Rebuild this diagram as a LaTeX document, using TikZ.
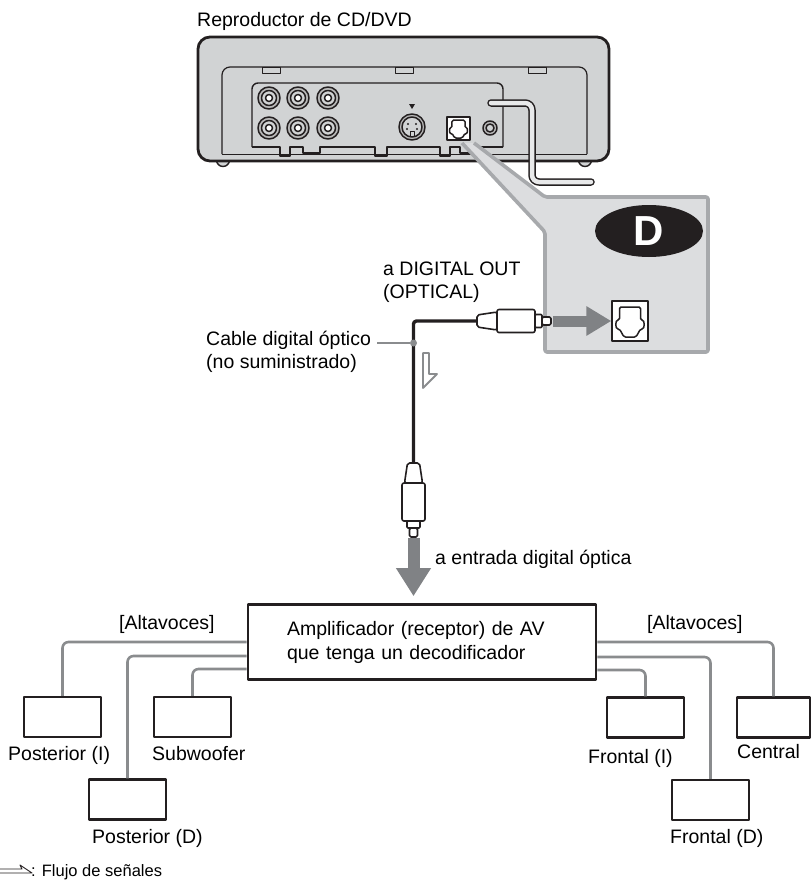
\documentclass[tikz,border=0pt]{standalone}
\usepackage{fontspec}
\setmainfont{Liberation Sans}
\usepackage{tikz}
\usetikzlibrary{arrows.meta, positioning, shapes.geometric}
\tikzset{>=stealth}
\definecolor{ink}{HTML}{231F20}
\definecolor{case}{HTML}{D1D3D4}
\definecolor{lens}{HTML}{DCDDDF}
\definecolor{lensedge}{HTML}{A7A9AC}
\definecolor{wiregray}{HTML}{8A8C8E}
\definecolor{flow}{HTML}{808285}

% optical socket outline, centred at #1
\newcommand{\optsocket}[3]{%
  \begin{scope}[shift={(#1)}, xscale=#2, yscale=#3]
    \draw[ink, line width=1.5, rounded corners=1.5] (-10.5,-14) -- (10.5,-14) -- (10.5,-1)
      .. controls (15,-1) and (15,8) .. (10.5,8) -- (6,16) -- (-6,16) -- (-10.5,8)
      .. controls (-15,8) and (-15,-1) .. (-10.5,-1) -- cycle;
  \end{scope}}
% optical plug, cable end at #1, pointing along #2 degrees
\newcommand{\optplug}[2]{%
  \begin{scope}[shift={(#1)}, rotate=#2]
    \draw[ink, line width=1.6, fill=white, rounded corners=2] (0,-6) -- (20,-9) -- (20,9) -- (0,6) -- cycle;
    \draw[ink, line width=1.6, fill=white, rounded corners=2] (20,-11.5) rectangle (58,11.5);
    \draw[ink, line width=1.6, fill=white, rounded corners=1] (58,-6.5) rectangle (65,6.5);
    \draw[ink, line width=1.6, fill=white, rounded corners=1.5] (65,-4) rectangle (74,4);
  \end{scope}}

\begin{document}
\begin{tikzpicture}[x=1pt, y=-1pt, line join=round,
  txt/.style={font=\fontsize{19.5}{23}\selectfont, inner sep=0pt, anchor=base west},
  jack/.style={draw=ink, line width=1.5},
  speaker/.style={draw=ink, line width=2.4, fill=white, minimum width=77, minimum height=40, inner sep=0pt},
  spkwire/.style={draw=wiregray, line width=2.6, rounded corners=6},
  cable/.style={draw=ink, line width=3.4, rounded corners=3}]
\useasboundingbox (0,0) rectangle (811,881);

\node[txt] (title) at (197,26) {Reproductor de CD/DVD};

% player, rear view
\draw[ink, line width=1.4, fill=case] (223,160) circle (6.5) (585,160) circle (6.5);
\draw[ink, line width=2.8, fill=case, rounded corners=12] (198,37) rectangle (609,161);
\draw[ink, line width=1] (222,154) -- (587,154);
\draw[ink, line width=1.2, rounded corners=8] (222,154) -- (222,67) -- (587,67) -- (587,154);
\foreach \x in {262,395,528} \draw[ink, line width=1] (\x,67) rectangle ++(18,6);
\draw[ink, line width=1.4, fill=case, rounded corners=6] (252,147) -- (252,83) -- (503,83) -- (503,147);
\draw[ink, line width=1.4] (252,147) -- (280,147) |- (290,156) |- (303,147) |- (320,153) |- (375,147)
  |- (387,156) |- (440,147) |- (450,156) |- (460,147) |- (470,153) |- (503,147);
\foreach \x in {269,298,328} \foreach \y in {98,128} {
  \draw[jack, fill=gray!55] (\x,\y) circle (11);
  \draw[jack, fill=case] (\x,\y) circle (7.5);
  \draw[jack, fill=white] (\x,\y) circle (3.5);}
\draw[jack, fill=gray!55] (412,127) circle (13);
\draw[jack, fill=case] (412,127) circle (10);
\foreach \dx/\dy in {-4/-3, 4/-3, -5/2, 5/2} \fill[ink] (412+\dx,127+\dy) circle (1.1);
\draw[ink, line width=1] (410,131) rectangle (414,136);
\fill[ink] (409,104) -- (415,104) -- (412,109) -- cycle;
\draw[ink, line width=1.4, fill=white] (447,117) rectangle (470,140);
\optsocket{458.5,128.5}{0.62}{0.6}
\draw[jack, fill=gray!55] (490,128) circle (7);
\draw[jack, fill=case] (490,128) circle (4);

% enlarged view of the output
\filldraw[draw=lensedge, fill=lens, line width=3.6, rounded corners=2] (462,143) -- (545,232) -- (545,352)
  -- (708,352) -- (708,197) -- (545,197) -- (474,143);
\draw[ink, line width=7.5, rounded corners=7, line cap=round] (491,103) -- (532,103) -- (532,182) -- (591,182);
\draw[case!50!white, line width=4.5, rounded corners=7, line cap=round] (491,103) -- (532,103) -- (532,182) -- (591,182);
\node[ellipse, fill=ink, minimum width=108, minimum height=52, inner sep=0, text=white,
  font=\bfseries\fontsize{42}{42}\selectfont] (badge) at (649,231) {D};
\node[draw=ink, line width=1.4, fill=white, minimum width=36, minimum height=40, inner sep=0] (socket) at (630,321) {};
\optsocket{630,321}{1}{1}

% optical cable
\coordinate (outplug) at (477,321);
\coordinate (inplug) at (413.5,463);
\coordinate (outtip) at (553,321);
\coordinate (intip) at (413.5,538);
\draw[cable] (outplug) -| (inplug);
\optplug{477,321}{0}
\optplug{413.5,463}{-90}
\draw[flow, line width=11, -{Triangle[length=25pt, width=28pt]}] (outtip) -- (socket.west);
\node[txt] (outlbl) at (383,275) {a DIGITAL OUT};
\node[txt] (outlbl2) at (383,298) {(OPTICAL)};
\node[txt] (cablelbl) at (206,345) {Cable digital óptico};
\node[txt] (cablelbl2) at (206,368) {(no suministrado)};
\coordinate (leadend) at (377,343);
\node[circle, fill=wiregray, inner sep=0, minimum size=7] (tap) at (413.5,343) {};
\draw[wiregray, line width=1.5] (leadend) -- (tap);
\draw[wiregray, line width=1.8, fill=white] (423,353) -- (429,353) -- (429,374) -- (437,374) -- (423,388) -- cycle;

% amplifier and speakers
\node[draw=ink, line width=2.6, fill=white, text width=270, inner xsep=39, inner ysep=0, minimum height=75,
  align=left, font=\fontsize{19.5}{24}\selectfont] (amp) at (422,642) {Amplificador (receptor) de AV\\que tenga un decodificador};
\draw[flow, line width=12, -{Triangle[length=28pt, width=33pt]}, shorten >=7pt] (intip) -- (intip |- amp.north);
\node[txt] (inlbl) at (435,564) {a entrada digital óptica};

\node[speaker] (postI) at (62.5,717) {};
\node[speaker] (sub) at (192.5,717) {};
\node[speaker] (postD) at (127.5,799.5) {};
\node[speaker] (frontI) at (645.5,717.5) {};
\node[speaker, minimum width=73] (central) at (773.5,717.5) {};
\node[speaker] (frontD) at (710.5,800) {};
\draw[spkwire] (amp.west) -| (postI.north);
\draw[spkwire] ([yshift=-14pt]amp.west) -| (postD.north);
\draw[spkwire] ([yshift=-27pt]amp.west) -| (sub.north);
\draw[spkwire] (amp.east) -| (central.north);
\draw[spkwire] ([yshift=-15pt]amp.east) -| (frontD.north);
\draw[spkwire] ([yshift=-28pt]amp.east) -| (frontI.north);

\node[txt] (spkleft) at (119,629) {[Altavoces]};
\node[txt] (spkright) at (647,629) {[Altavoces]};
\node[txt] (lblPostI) at (8,760) {Posterior (I)};
\node[txt] (lblSub) at (152,760) {Subwoofer};
\node[txt] (lblPostD) at (92,843) {Posterior (D)};
\node[txt] (lblFrontI) at (588,763) {Frontal (I)};
\node[txt] (lblCentral) at (737,758) {Central};
\node[txt] (lblFrontD) at (670,843) {Frontal (D)};

% legend
\draw[ink, line width=0.9] (0,869) -- (22,869) -- (20,865) -- (32,873) -- (0,873);
\node[txt, font=\fontsize{16.5}{20}\selectfont] (legend) at (31,876) {: Flujo de señales};
\end{tikzpicture}
\end{document}
